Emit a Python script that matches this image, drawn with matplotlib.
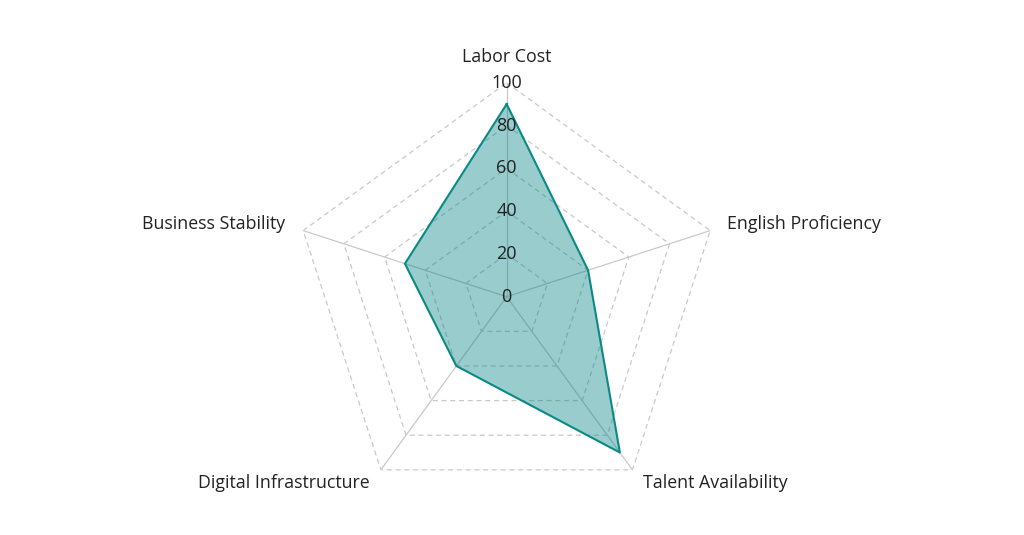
import numpy as np
import matplotlib.pyplot as plt

plt.rcParams['font.family'] = ['Open Sans', 'DejaVu Sans']

# data
categories = ['Labor Cost', 'English Proficiency', 'Talent Availability',
              'Digital Infrastructure', 'Business Stability']
values = [90, 40, 90, 40, 50]
ticks = [0, 20, 40, 60, 80, 100]

n = len(categories)
angles = np.linspace(0, 2 * np.pi, n, endpoint=False)
ang_closed = np.append(angles, angles[0])
val_closed = np.append(values, values[0])

fig = plt.figure(figsize=(10.24, 5.35), dpi=100)
ax = fig.add_axes([0.2858, 0.0454, 0.418, 0.8], projection='polar')
ax.set_theta_zero_location('N')
ax.set_theta_direction(-1)
ax.set_ylim(0, 100)
ax.grid(False)
ax.spines['polar'].set_visible(False)
ax.set_xticks([])
ax.set_yticks([])

grid_col = '#c9c9c9'
# pentagon grid
for t in ticks[1:]:
    ax.plot(ang_closed, [t] * (n + 1), color=grid_col, lw=0.9, ls=(0, (4, 3)), zorder=1)
# spokes
for a in angles:
    ax.plot([a, a], [0, 100], color=grid_col, lw=0.9, zorder=1)

# data polygon
ax.fill(ang_closed, val_closed, color='#008080', alpha=0.4, lw=0, zorder=2)
ax.plot(ang_closed, val_closed, color='#0a8a86', lw=1.5, zorder=3)

# radial tick labels
for t in ticks:
    ax.text(0, t, str(t), ha='center', va='center', fontsize=13,
            color='#222222', zorder=4)

# category labels
offsets = [(0, 26, 'center'), (17, 7, 'left'), (11, -13, 'left'),
           (-11, -13, 'right'), (-18, 7, 'right')]
for a, lab, (dx, dy, ha) in zip(angles, categories, offsets):
    ax.annotate(lab, xy=(a, 100), xytext=(dx, dy), textcoords='offset pixels',
                ha=ha, va='center', fontsize=12.8, color='#222222',
                annotation_clip=False)

fig.savefig('out.png', dpi=100)
